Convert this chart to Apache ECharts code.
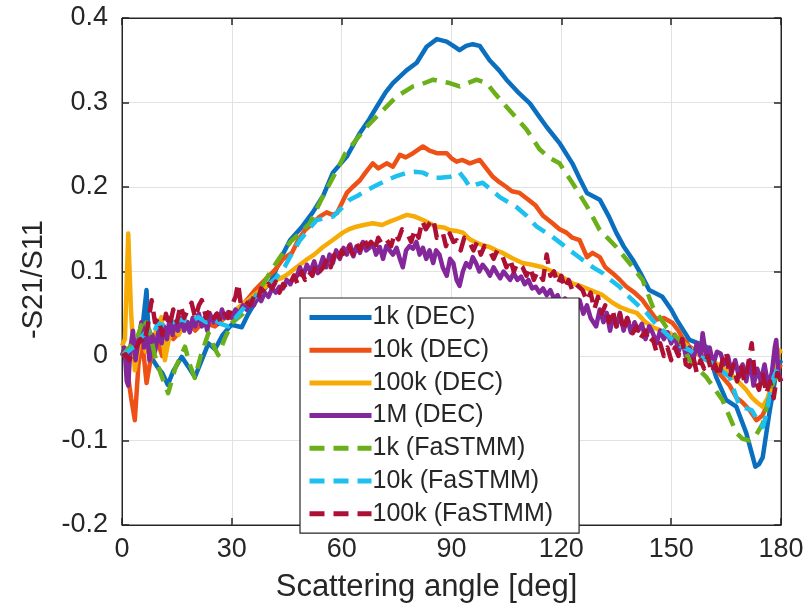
<!DOCTYPE html>
<html>
<head>
<meta charset="utf-8">
<script src="https://cdn.jsdelivr.net/npm/echarts@6/dist/echarts.min.js"></script>
<style>html,body{margin:0;padding:0;background:#fff}#c{width:811px;height:612px}</style>
</head>
<body>
<div id="c"></div>
<script>
var xTicks = [0, 30, 60, 90, 120, 150, 180];
var yTicks = [-0.2, -0.1, 0, 0.1, 0.2, 0.3, 0.4];
var seriesNames = ['1k (DEC)', '10k (DEC)', '100k (DEC)', '1M (DEC)', '1k (FaSTMM)', '10k (FaSTMM)', '100k (FaSTMM)'];

var dec1k = [[0,0.005],[1,0.0],[2,0.008],[3,0.0],[4,0.015],[5,0.01],[6,0.05],[6.7,0.078],[7.5,0.0],[8.5,-0.005],[10,-0.015],[11,-0.02],[12.5,-0.034],[14,-0.018],[16.3,-0.001],[18,-0.012],[19.9,-0.025],[21.5,-0.008],[23.6,0.015],[25.4,0.008],[27.5,0.025],[29.9,0.037],[32.7,0.034],[34.5,0.05],[36.3,0.063],[38.5,0.077],[40.9,0.09],[43.3,0.115],[45.9,0.137],[49,0.152],[52.1,0.17],[55,0.19],[57.6,0.217],[61.4,0.236],[65,0.264],[67.5,0.28],[69.6,0.295],[72,0.312],[74,0.323],[77.7,0.338],[80.5,0.347],[83.2,0.366],[86,0.375],[88.7,0.372],[90.5,0.367],[92.2,0.362],[94,0.367],[95.8,0.369],[97.7,0.367],[100.4,0.35],[103,0.338],[105,0.327],[108,0.313],[111.4,0.299],[114,0.283],[116,0.271],[119.5,0.252],[123,0.228],[125,0.21],[127,0.193],[130.5,0.185],[133,0.165],[135,0.146],[137,0.13],[139.5,0.114],[142,0.095],[144,0.078],[147.6,0.07],[150,0.055],[151.5,0.043],[155,0.019],[157.5,0.015],[159.6,0.011],[162.3,-0.025],[165,-0.052],[167.8,-0.06],[170.5,-0.091],[172,-0.115],[173,-0.131],[174,-0.128],[175,-0.12],[176.8,-0.068],[178.7,-0.02],[180,-0.005]];

var dec10k = [[0,0.0],[1,0.005],[1.7,-0.025],[2.5,-0.05],[3.5,-0.076],[4.5,-0.01],[5.5,0.02],[6.7,-0.032],[8.1,0.003],[9.5,0.02],[11,0.0],[12.5,0.03],[14,0.02],[16.3,0.031],[18,0.04],[20,0.03],[22,0.04],[25.4,0.035],[28,0.045],[30,0.05],[32,0.055],[34.4,0.068],[36.3,0.078],[39,0.09],[41.8,0.102],[44,0.115],[46.4,0.122],[48,0.136],[50,0.149],[52.1,0.157],[54,0.165],[55.9,0.17],[57.5,0.167],[58.7,0.169],[61.4,0.193],[63,0.2],[65,0.208],[66.5,0.217],[68.5,0.228],[70,0.222],[72.3,0.228],[74,0.224],[75.9,0.238],[77.5,0.235],[79.5,0.24],[82.2,0.248],[84,0.243],[86,0.24],[88.7,0.24],[90,0.234],[91.4,0.23],[93,0.232],[95,0.228],[97.7,0.232],[99.5,0.222],[101.3,0.212],[103,0.206],[105,0.2],[106.5,0.195],[108.6,0.193],[111,0.185],[113,0.178],[115,0.166],[117.6,0.157],[119.5,0.15],[121.4,0.146],[123,0.14],[125,0.137],[127,0.117],[128.5,0.122],[130.5,0.117],[132,0.105],[134,0.098],[136,0.09],[137.8,0.082],[140,0.075],[142.2,0.066],[144,0.055],[146,0.043],[148,0.045],[150.4,0.039],[152,0.03],[153,0.022],[155,0.011],[157,0.005],[160,-0.005],[162,-0.015],[164,-0.025],[166,-0.035],[167.8,-0.049],[169.5,-0.055],[171.4,-0.064],[173.3,-0.076],[175,-0.07],[176,-0.06],[177.7,-0.032],[179.6,-0.013],[180,-0.01]];

var dec100k = [[0,0.012],[0.8,0.02],[1.7,0.145],[2.5,0.05],[3.5,-0.017],[4.5,0.01],[5.5,0.025],[6.5,0.005],[7.5,0.03],[8.5,0.015],[9.5,0.035],[10.8,0.046],[11.7,-0.005],[12.8,0.02],[14,0.03],[15.5,0.025],[17,0.04],[18.5,0.035],[20,0.045],[22,0.04],[25.4,0.043],[28,0.045],[30,0.05],[32,0.058],[34.4,0.066],[37,0.075],[39.5,0.083],[41.8,0.09],[43.5,0.092],[45.3,0.097],[47.7,0.105],[50.4,0.114],[52.5,0.12],[54.9,0.129],[57.5,0.137],[60.3,0.146],[62,0.15],[64,0.153],[66,0.155],[68.5,0.157],[71,0.155],[73.1,0.159],[75.5,0.163],[77.8,0.167],[80,0.165],[82.2,0.161],[84,0.157],[86,0.153],[88,0.152],[89.5,0.149],[91.3,0.148],[93.1,0.146],[95,0.138],[96.9,0.134],[98.5,0.131],[100.4,0.129],[102.2,0.125],[104,0.122],[106.5,0.116],[109.4,0.11],[112,0.108],[114.9,0.105],[117.6,0.1],[120.4,0.093],[123,0.086],[125.8,0.082],[128,0.078],[131.3,0.072],[134,0.063],[136,0.058],[138.3,0.054],[140.6,0.051],[143,0.04],[145,0.034],[147.3,0.03],[149.6,0.027],[152,0.02],[155,0.01],[157,0.003],[159.6,-0.005],[162,-0.008],[164,-0.013],[166.5,-0.022],[168.7,-0.032],[170.5,-0.04],[172,-0.049],[173.5,-0.055],[175,-0.06],[176.3,-0.05],[177.7,-0.032],[178.8,-0.01],[179.6,0.007],[180,0.003]];

var dec1M = [[0,0.0],[0.7,0.01],[1.3,-0.03],[1.7,-0.035],[2.3,0.01],[3,0.03],[3.7,-0.005],[4.5,0.02],[5.3,0.04],[6,0.01],[6.7,0.035],[7.5,-0.005],[8.3,0.025],[9,0.005],[10,0.03],[10.8,0.015],[11.5,0.035],[12.3,0.02],[13,0.045],[13.8,0.025],[14.5,0.04],[15.3,0.03],[16,0.045],[17,0.03],[17.8,0.04],[18.5,0.028],[19.3,0.045],[20,0.035],[21,0.05],[21.8,0.035],[22.5,0.045],[23.3,0.03],[24,0.05],[25,0.04],[25.8,0.05],[26.5,0.038],[27.3,0.055],[28,0.045],[29,0.052],[30,0.045],[31,0.055],[32,0.05],[33,0.06],[34,0.055],[35,0.065],[36,0.06],[37,0.07],[38,0.065],[39,0.075],[40,0.07],[41,0.08],[42,0.075],[43,0.082],[44,0.08],[45,0.09],[46,0.085],[47,0.095],[47.7,0.094],[48.6,0.105],[49.5,0.095],[50.5,0.108],[51.5,0.1],[52.5,0.112],[53.5,0.098],[54.9,0.117],[55.8,0.105],[56.7,0.12],[57.6,0.11],[58.5,0.125],[59.5,0.115],[60.5,0.128],[61.4,0.12],[62.3,0.132],[63.2,0.118],[64,0.129],[65,0.122],[65.8,0.135],[66.7,0.125],[67.6,0.128],[68.5,0.133],[69.4,0.12],[70.4,0.129],[71.3,0.115],[72.2,0.13],[73.1,0.125],[74,0.12],[75,0.128],[75.9,0.115],[76.7,0.105],[77.6,0.125],[78.5,0.13],[79.5,0.127],[80.4,0.135],[81.3,0.12],[82.2,0.128],[83.1,0.115],[84,0.125],[85,0.11],[85.8,0.125],[86.7,0.12],[87.6,0.105],[88.7,0.095],[89.6,0.115],[90.5,0.11],[91.4,0.09],[92.2,0.083],[93.1,0.1],[94,0.11],[95,0.105],[95.8,0.117],[96.7,0.11],[97.6,0.1],[98.5,0.108],[99.6,0.102],[100.5,0.095],[101.5,0.105],[102.4,0.098],[103.3,0.092],[104.2,0.1],[105.1,0.095],[106,0.09],[107,0.098],[108,0.09],[109,0.094],[110,0.085],[111,0.09],[112,0.08],[113,0.082],[114,0.075],[115,0.08],[116,0.072],[117,0.078],[118,0.068],[119,0.072],[120,0.06],[121,0.068],[122,0.055],[123,0.062],[124,0.05],[125,0.066],[126,0.05],[127,0.06],[128,0.045],[128.5,0.046],[129.5,0.035],[130.5,0.055],[131.5,0.04],[132.4,0.051],[133.3,0.03],[134.2,0.048],[135.1,0.035],[136,0.051],[137,0.03],[138,0.045],[139,0.028],[140,0.04],[141,0.03],[142,0.038],[143,0.02],[144,0.035],[145,0.027],[146,0.015],[147,0.03],[148,0.02],[149,0.028],[150,0.015],[151,0.025],[152,0.005],[153,0.02],[154,0.0],[155,0.01],[156,-0.005],[157,0.015],[158,0.0],[158.6,0.027],[159.5,0.0],[160.5,0.01],[161.5,-0.01],[162.5,0.005],[163.5,0.003],[164.5,-0.01],[165.5,0.0],[166.5,-0.02],[167.5,-0.005],[168.5,-0.025],[169.5,-0.01],[170.5,-0.03],[171.5,-0.005],[172.5,-0.035],[173.5,-0.015],[174.5,-0.03],[175.5,-0.01],[176.5,-0.035],[177.5,-0.02],[178.3,0.01],[178.7,0.019],[179.3,-0.02],[180,-0.03]];

var fa1k = [[0,0.0],[2,0.01],[4,0.02],[6,0.045],[7.5,0.03],[9,0.0],[10.5,-0.02],[12.6,-0.044],[14.5,-0.015],[17.2,0.011],[18.5,-0.01],[19.9,-0.026],[21.5,0.0],[23.6,0.027],[25,0.012],[26.3,0.001],[28,0.02],[30,0.039],[33,0.05],[36.3,0.07],[38.5,0.085],[40.9,0.102],[43,0.116],[46,0.135],[48.5,0.145],[51.3,0.157],[55,0.19],[58.7,0.22],[61,0.24],[64,0.256],[67,0.272],[70.4,0.287],[75,0.307],[79.5,0.319],[82,0.322],[85,0.327],[87,0.325],[89.5,0.323],[92.2,0.319],[94.5,0.323],[96.8,0.327],[99.6,0.323],[102,0.31],[105,0.295],[107.5,0.283],[110.5,0.268],[114,0.245],[116.5,0.235],[119.5,0.228],[123,0.205],[127,0.177],[130.5,0.149],[133,0.138],[135,0.129],[138.6,0.11],[142.2,0.09],[145,0.058],[148.7,0.034],[152.3,0.019],[155,-0.005],[159.6,-0.025],[164,-0.052],[167.8,-0.091],[169.5,-0.098],[171.4,-0.1],[173,-0.095],[175,-0.08],[177.7,-0.032],[180,-0.015]];

var fa10k = [[0,0.0],[1.5,0.005],[3,0.01],[5.4,0.023],[7,0.03],[8.5,0.025],[9.8,0.039],[12,0.035],[14,0.04],[16.3,0.043],[18.5,0.04],[20.8,0.046],[23,0.04],[25.4,0.043],[27,0.038],[29,0.035],[31,0.045],[34.4,0.063],[37,0.072],[39.9,0.082],[42,0.092],[44.5,0.106],[46.5,0.122],[48.6,0.137],[51,0.15],[53.2,0.161],[55.5,0.163],[57.6,0.165],[60,0.175],[62.2,0.185],[64.5,0.19],[66.8,0.196],[69.5,0.202],[72.3,0.208],[75,0.213],[77.8,0.217],[80,0.218],[82.2,0.217],[85,0.211],[87,0.211],[89.5,0.212],[92.2,0.217],[93.5,0.21],[95,0.2],[96.8,0.203],[98.5,0.205],[101,0.196],[103.2,0.188],[105.5,0.182],[107.8,0.176],[110.5,0.166],[113.3,0.153],[115.5,0.147],[117.6,0.141],[120,0.133],[122.3,0.125],[124.5,0.118],[127,0.11],[129,0.104],[131.3,0.098],[133.5,0.09],[135.9,0.082],[137.5,0.074],[139.5,0.066],[141.5,0.058],[143.3,0.051],[145,0.042],[146.8,0.034],[148.5,0.027],[150.4,0.019],[152.5,0.012],[155,0.007],[157,0.0],[159,-0.003],[161,-0.008],[163,-0.015],[166,-0.025],[167.5,-0.045],[168.7,-0.06],[170.5,-0.062],[172,-0.064],[173.5,-0.075],[175,-0.084],[176,-0.07],[176.8,-0.049],[178,-0.025],[179,-0.015],[180,-0.01]];

var fa100k = [[0,0.0],[1,0.002],[2,-0.005],[3,0.005],[4,0.01],[5,0.02],[6,0.015],[7,0.035],[8.1,0.066],[9,0.04],[10,0.045],[11,0.025],[12,0.05],[13,0.035],[14,0.055],[15,0.04],[16,0.06],[17,0.045],[18,0.055],[19,0.063],[20,0.045],[21,0.06],[21.8,0.066],[23,0.045],[24,0.055],[25,0.045],[26,0.05],[27,0.04],[28,0.05],[29,0.045],[30,0.06],[31,0.07],[31.7,0.086],[32.5,0.06],[33.5,0.065],[35,0.06],[36,0.07],[37,0.065],[38,0.08],[39,0.075],[40,0.085],[41,0.08],[42,0.088],[43,0.075],[44,0.085],[45,0.08],[45.9,0.086],[47,0.095],[48,0.085],[49,0.1],[50,0.09],[51,0.1],[52,0.095],[53,0.108],[54,0.1],[55,0.105],[56,0.115],[57,0.105],[58,0.12],[59,0.112],[60,0.125],[61,0.118],[62,0.13],[63,0.12],[64,0.133],[65,0.125],[66,0.14],[67,0.13],[68,0.135],[69,0.125],[70,0.14],[71,0.132],[72.3,0.137],[73.5,0.13],[74.5,0.145],[75.5,0.138],[76.5,0.15],[77.8,0.146],[79,0.135],[80,0.15],[81,0.14],[82,0.16],[83,0.15],[84,0.157],[85,0.162],[86,0.14],[87.6,0.146],[88.5,0.13],[89.5,0.145],[90.5,0.135],[91.4,0.137],[92.5,0.125],[93.5,0.14],[95,0.134],[96,0.125],[97,0.135],[98,0.12],[99,0.13],[100.4,0.125],[101.5,0.115],[102.5,0.125],[104,0.117],[105,0.105],[106,0.115],[107,0.1],[108,0.11],[109.4,0.105],[110.5,0.095],[111.5,0.105],[112.5,0.09],[113.5,0.1],[115,0.09],[116,0.12],[117,0.095],[118,0.1],[119,0.085],[120,0.095],[121,0.08],[122,0.09],[123,0.078],[124,0.085],[125.8,0.078],[127,0.065],[128,0.075],[129,0.055],[130,0.07],[131,0.05],[132,0.06],[133,0.04],[134,0.055],[135,0.035],[136,0.05],[137,0.03],[138,0.045],[139.5,0.027],[140.5,0.035],[141.5,0.02],[143,0.03],[144,0.015],[145,0.02],[146,0.005],[147,0.015],[148,0.0],[149,0.01],[150,-0.005],[151,0.01],[152,0.0],[153,0.02],[154,-0.01],[155,-0.013],[156,0.0],[157,-0.02],[158,-0.005],[159,-0.015],[160,0.0],[161,-0.02],[162,-0.01],[163,-0.025],[164,-0.005],[165,0.005],[166,-0.025],[167,-0.01],[168,-0.03],[169,-0.01],[170,-0.03],[171,-0.01],[172,0.015],[173,-0.03],[174,-0.04],[175,-0.02],[176,-0.045],[177,-0.03],[178,-0.05],[179,-0.02],[180,-0.03]];

var seriesData = [dec1k, dec10k, dec100k, dec1M, fa1k, fa10k, fa100k];
var colors = ['#0a6fbf', '#ee5116', '#f6ab06', '#84279a', '#6bb01a', '#1ec0ee', '#ad1035'];
var dashed = [false, false, false, false, true, true, true];

var FONT = 'Liberation Sans, Arial, Helvetica, sans-serif';
var TXT = '#262626';

var chart = echarts.init(document.getElementById('c'), null, {renderer: 'canvas'});

var series = seriesData.map(function (d, i) {
  return {
    name: seriesNames[i],
    type: 'line',
    xAxisIndex: 0,
    yAxisIndex: 0,
    data: d,
    showSymbol: false,
    symbol: 'none',
    smooth: false,
    animation: false,
    lineStyle: {color: colors[i], width: 4.5, type: dashed[i] ? [15, 9] : 'solid', cap: 'butt', join: 'round'},
    itemStyle: {color: colors[i]},
    z: 2 + i
  };
});

var baseX = {type: 'value', min: 0, max: 180, interval: 30};
var baseY = {type: 'value', min: -0.2, max: 0.4, interval: 0.1};

chart.setOption({
  backgroundColor: '#ffffff',
  animation: false,
  textStyle: {fontFamily: FONT},
  grid: {left: 122, right: 30, top: 18, bottom: 87, show: true, borderColor: TXT, borderWidth: 1, backgroundColor: 'transparent'},
  legend: {
    orient: 'vertical',
    left: 300,
    top: 298,
    data: seriesNames,
    itemWidth: 62,
    itemHeight: 14,
    itemGap: 7.7,
    padding: [7, 26, 7, 7],
    backgroundColor: '#ffffff',
    borderColor: TXT,
    borderWidth: 1.2,
    borderRadius: 0,
    itemStyle: {opacity: 0},
    lineStyle: {width: 5},
    textStyle: {fontFamily: FONT, fontSize: 25, color: TXT, lineHeight: 25, padding: [0, 0, 0, -4]},
    selectedMode: false,
    z: 20
  },
  xAxis: [
    Object.assign({}, baseX, {
      position: 'bottom',
      name: 'Scattering angle [deg]',
      nameLocation: 'middle',
      nameGap: 47,
      nameTextStyle: {fontFamily: FONT, fontSize: 31, color: TXT, padding: [0, 50, 0, 0]},
      axisLine: {show: true, onZero: false, lineStyle: {color: TXT, width: 1}},
      axisTick: {show: true, inside: true, length: 7, lineStyle: {color: TXT, width: 1.5}},
      axisLabel: {show: true, fontFamily: FONT, fontSize: 27, color: TXT, margin: 11,
        formatter: function (v) { return xTicks.indexOf(v) >= 0 ? String(v) : ''; }},
      splitLine: {show: true, lineStyle: {color: '#e2e2e2', width: 1}}
    }),
    Object.assign({}, baseX, {
      position: 'top',
      axisLine: {show: true, onZero: false, lineStyle: {color: TXT, width: 1}},
      axisTick: {show: true, inside: true, length: 7, lineStyle: {color: TXT, width: 1.5}},
      axisLabel: {show: false},
      splitLine: {show: false}
    })
  ],
  yAxis: [
    Object.assign({}, baseY, {
      position: 'left',
      name: '-S21/S11',
      nameLocation: 'middle',
      nameGap: 74,
      nameRotate: 90,
      nameTextStyle: {fontFamily: FONT, fontSize: 29, color: TXT, padding: [0, 16, 0, 0]},
      axisLine: {show: true, onZero: false, lineStyle: {color: TXT, width: 1}},
      axisTick: {show: true, inside: true, length: 7, lineStyle: {color: TXT, width: 1.5}},
      axisLabel: {show: true, fontFamily: FONT, fontSize: 27, color: TXT, margin: 14,
        formatter: function (v) {
          var r = Math.round(v * 10) / 10;
          return yTicks.indexOf(r) >= 0 ? (r === 0 ? '0' : String(r)) : '';
        }},
      splitLine: {show: true, lineStyle: {color: '#e2e2e2', width: 1}}
    }),
    Object.assign({}, baseY, {
      position: 'right',
      axisLine: {show: true, onZero: false, lineStyle: {color: TXT, width: 1}},
      axisTick: {show: true, inside: true, length: 7, lineStyle: {color: TXT, width: 1.5}},
      axisLabel: {show: false},
      splitLine: {show: false}
    })
  ],
  series: series
});
</script>
</body>
</html>
